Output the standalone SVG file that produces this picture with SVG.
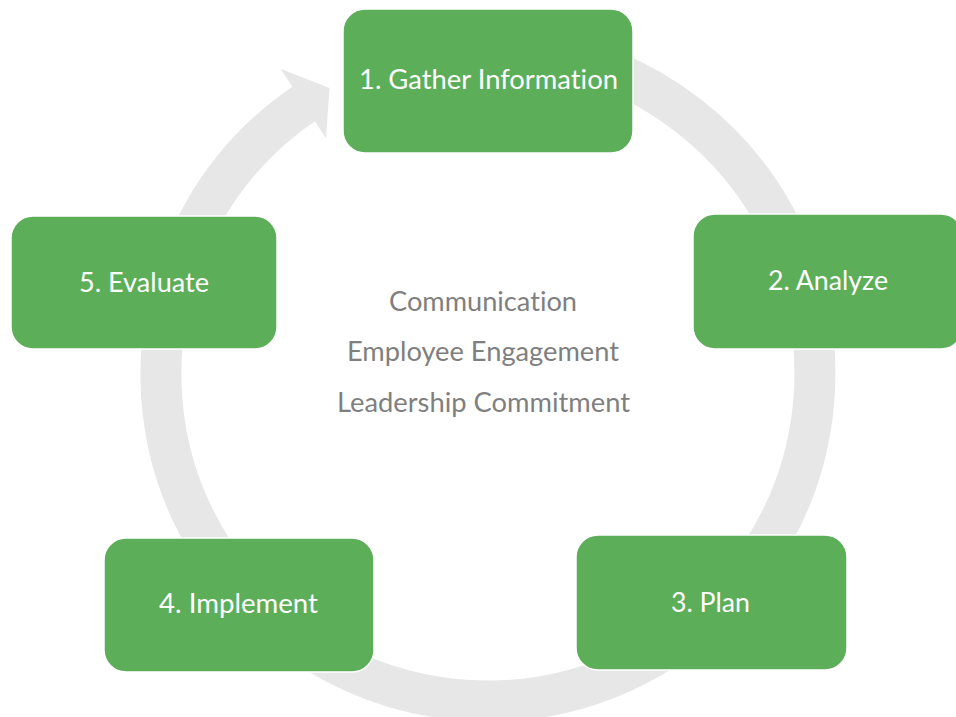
<svg xmlns="http://www.w3.org/2000/svg" width="956" height="717" viewBox="0 0 956 717">
<style>
.box{fill:#5CAE59;stroke:#FFFFFF;stroke-width:1.5}
.lbl{font-family:Lato,"Open Sans","Liberation Sans",sans-serif;font-size:26px;fill:#FFFFFF;text-anchor:middle;font-variant-ligatures:none}
.mid{font-family:Lato,"Open Sans","Liberation Sans",sans-serif;font-size:26px;fill:#7F7F7F;text-anchor:middle;font-variant-ligatures:none}
.ring{fill:none;stroke:#E7E7E7;stroke-width:41}
</style>
<rect width="956" height="717" fill="#FFFFFF"/>
<g id="connectors">
<path class="ring" d="M 376.2 66.7 A 327 327 0 1 1 307.5 101.3"/>
<polygon points="280.6,68.8 329.5,88 326,138.3" fill="#E7E7E7"/>
</g>
<g id="node1">
<rect class="box" x="343" y="9" width="290" height="144" rx="22"/>
<text class="lbl" x="488.5" y="89" textLength="259" lengthAdjust="spacingAndGlyphs">1. Gather Information</text>
</g>
<g id="node2">
<rect class="box" x="693" y="214" width="270" height="135" rx="22"/>
<text class="lbl" x="828" y="290" textLength="120" lengthAdjust="spacingAndGlyphs">2. Analyze</text>
</g>
<g id="node3">
<rect class="box" x="576" y="535" width="271" height="135" rx="22"/>
<text class="lbl" x="710.5" y="612" textLength="79" lengthAdjust="spacingAndGlyphs">3. Plan</text>
</g>
<g id="node4">
<rect class="box" x="104" y="538" width="270" height="134" rx="22"/>
<text class="lbl" x="238.5" y="613" textLength="159" lengthAdjust="spacingAndGlyphs">4. Implement</text>
</g>
<g id="node5">
<rect class="box" x="11" y="216" width="266" height="133" rx="22"/>
<text class="lbl" x="144" y="292" textLength="130" lengthAdjust="spacingAndGlyphs">5. Evaluate</text>
</g>
<g id="center">
<text class="mid" x="483" y="311" textLength="188" lengthAdjust="spacingAndGlyphs">Communication</text>
<text class="mid" x="483" y="361" textLength="272" lengthAdjust="spacingAndGlyphs">Employee Engagement</text>
<text class="mid" x="483.5" y="412" textLength="293" lengthAdjust="spacingAndGlyphs">Leadership Commitment</text>
</g>
</svg>
